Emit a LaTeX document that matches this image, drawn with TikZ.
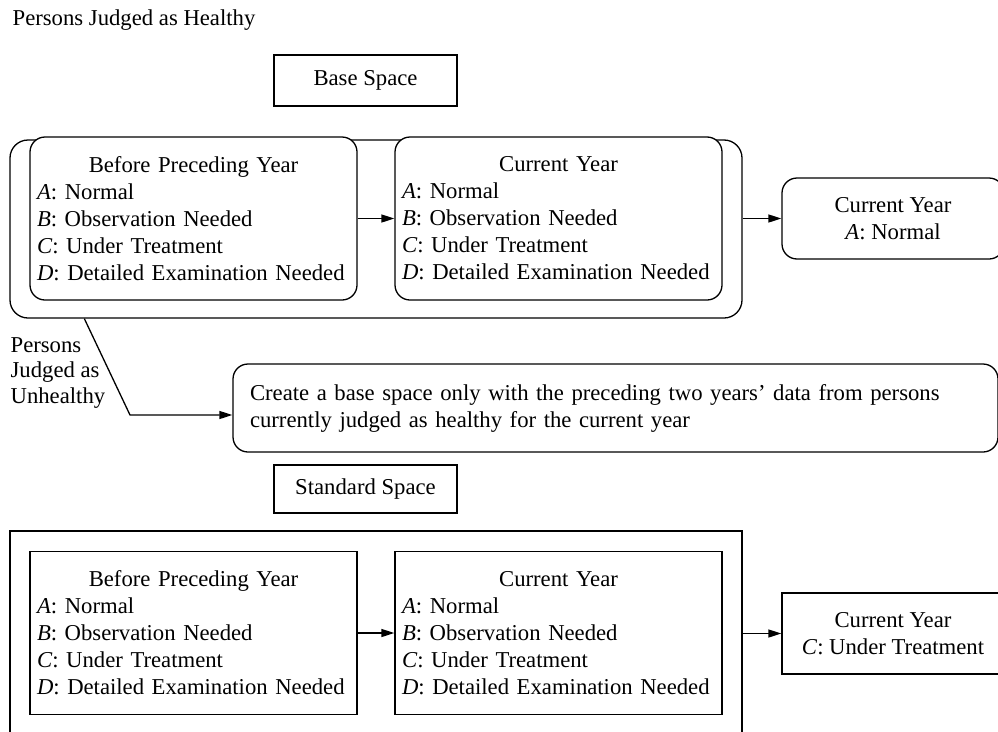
\documentclass[tikz,border=0pt]{standalone}
\usepackage{fontspec}
\setmainfont{Liberation Serif}
\usetikzlibrary{arrows.meta}
\begin{document}
\begin{tikzpicture}[x=1pt,y=-1pt,
  font=\fontsize{22.7}{27}\selectfont,
  line width=1.3pt,
  arr/.style={-{Triangle[length=13pt,width=8pt]}},
  sqbox/.style={draw, fill=white, inner sep=0pt, align=center},
  rbox/.style={draw, fill=white, inner sep=0pt, align=center, rounded corners=15pt},
  listbox/.style={draw, fill=white, inner xsep=7pt, inner ysep=0pt, text width=313pt,
    minimum height=163pt, align=left},
  outerbox/.style={draw, inner sep=0pt, rounded corners=18pt}]
\useasboundingbox (0,0) rectangle (998,731);
\clip (0,0) rectangle (998,731);

% top label
\node[anchor=base west, inner sep=0pt] (healthy) at (12,25) {Persons Judged as Healthy};
\node[sqbox, minimum width=183pt, minimum height=51pt] (base) at (365.5,80.5) {Base Space};

% upper group
\node[outerbox, minimum width=732pt, minimum height=178pt] (outerTop) at (376,229) {};
\node[listbox, rounded corners=15pt] (bp1) at (193.5,218.5)
  {{\centering Before Preceding Year\par}\textit{A}: Normal\\\textit{B}: Observation Needed\\\textit{C}: Under Treatment\\\textit{D}: Detailed Examination Needed};
\node[listbox, rounded corners=15pt] (cy1) at (558.5,218.5)
  {{\centering Current Year\par}\textit{A}: Normal\\\textit{B}: Observation Needed\\\textit{C}: Under Treatment\\\textit{D}: Detailed Examination Needed};
\node[rbox, minimum width=222pt, minimum height=81pt] (resA) at (893,218.5)
  {Current Year\\\textit{A}: Normal};
\draw[arr] (bp1.east) -- (cy1.west);
\draw[arr] (outerTop.east |- resA.west) -- (resA.west);

% unhealthy branch
\node[anchor=west, inner sep=0pt, align=left, font=\fontsize{22.7}{25.5}\selectfont] (unh) at (10,373)
  {Persons\\Judged as\\Unhealthy};
\node[rbox, minimum width=765pt, minimum height=88pt, inner xsep=17pt, text width=731pt, align=left] (create) at (615.5,408)
  {Create a base space only with the preceding two years’ data from persons\\currently judged as healthy for the current year};
\coordinate (bend) at (130,415);
\draw[arr] ([xshift=75pt]outerTop.south west) -- (bend) -- (bend -| create.west);

% lower group
\node[sqbox, minimum width=183pt, minimum height=48pt] (std) at (365.5,489) {Standard Space};
\coordinate (obl) at (10,531);
\coordinate (obr) at (742,531);
\draw (10,745) -- (obl) -- (obr) -- (742,745);
\node[listbox] (bp2) at (193.5,633)
  {{\centering Before Preceding Year\par}\textit{A}: Normal\\\textit{B}: Observation Needed\\\textit{C}: Under Treatment\\\textit{D}: Detailed Examination Needed};
\node[listbox] (cy2) at (558.5,633)
  {{\centering Current Year\par}\textit{A}: Normal\\\textit{B}: Observation Needed\\\textit{C}: Under Treatment\\\textit{D}: Detailed Examination Needed};
\node[sqbox, minimum width=222pt, minimum height=81pt] (resC) at (893,633.5)
  {Current Year\\\textit{C}: Under Treatment};
\draw[arr] (bp2.east) -- (cy2.west);
\draw[arr] (obr |- resC.west) -- (resC.west);
\end{tikzpicture}
\end{document}
